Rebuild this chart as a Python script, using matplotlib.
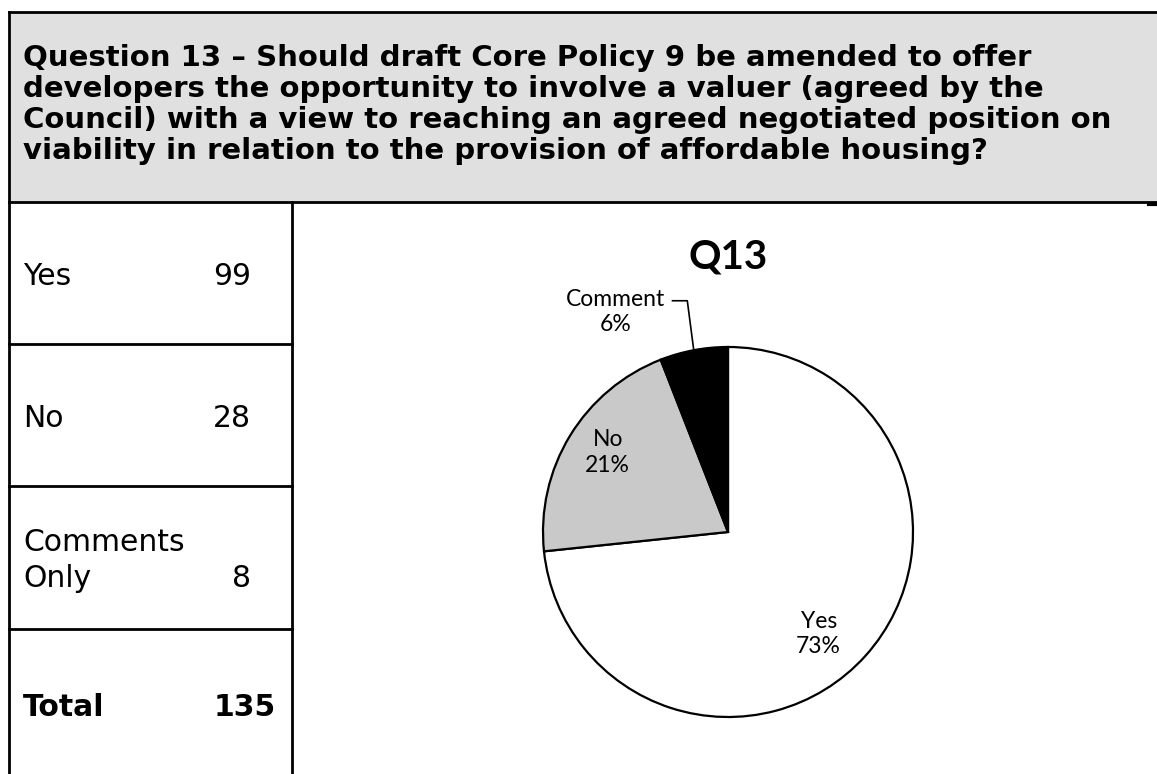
import matplotlib
matplotlib.use("Agg")
import matplotlib.pyplot as plt
import numpy as np

W, H = 1157, 774

question = ("Question 13 \u2013 Should draft Core Policy 9 be amended to offer\n"
            "developers the opportunity to involve a valuer (agreed by the\n"
            "Council) with a view to reaching an agreed negotiated position on\n"
            "viability in relation to the provision of affordable housing?")

row_labels = ["Yes", "No", "Comments\nOnly"]
row_counts = [99, 28, 8]
total_label = "Total"

pie_labels = ["Yes", "No", "Comment"]
pie_colors = ["#ffffff", "#c9c9c9", "#000000"]
chart_title = "Q13"

fig = plt.figure(figsize=(W / 100, H / 100), dpi=100)
fig.set_facecolor("white")

# page axes in pixel coordinates (y down)
page = fig.add_axes([0, 0, 1, 1])
page.set_xlim(0, W)
page.set_ylim(H, 0)
page.axis("off")

# header box
page.add_patch(plt.Rectangle((9, 12), W - 9, 190, facecolor="#e0e0e0",
                             edgecolor="none", zorder=0))
lw = 2.0
page.plot([9, W], [12, 12], color="black", lw=lw)
page.plot([9, W], [202, 202], color="black", lw=lw)
page.plot([9, 9], [12, H], color="black", lw=lw)
page.plot([292, 292], [202, H], color="black", lw=lw)
page.plot([1149, W], [204, 204], color="black", lw=3)

for i, line in enumerate(question.split("\n")):
    page.text(23, 66 + 31 * i, line, fontsize=21, fontweight="bold",
              family="DejaVu Sans", va="baseline", ha="left")

# left table
row_edges = [202, 344, 486, 629]
for y in row_edges[1:]:
    page.plot([9, 292], [y, y], color="black", lw=lw)

tfs = 21.5
baselines = [[285], [427], [551, 587]]
for label, count, ys in zip(row_labels, row_counts, baselines):
    for part, y in zip(label.split("\n"), ys):
        page.text(23, y, part, fontsize=tfs, family="DejaVu Sans",
                  va="baseline", ha="left")
    page.text(251, ys[-1], str(count), fontsize=tfs, family="DejaVu Sans",
              va="baseline", ha="right")
page.text(23, 716, total_label, fontsize=tfs, fontweight="bold",
          family="DejaVu Sans", va="baseline", ha="left")
page.text(276, 716, str(sum(row_counts)), fontsize=tfs, fontweight="bold",
          family="DejaVu Sans", va="baseline", ha="right")

# pie chart
cx, cy, r = 728, 532, 185
ax = fig.add_axes([(cx - r) / W, (H - cy - r) / H, 2 * r / W, 2 * r / H])
wedges, _ = ax.pie(row_counts, colors=pie_colors, startangle=90,
                   counterclock=False,
                   wedgeprops=dict(edgecolor="black", linewidth=1.6))
ax.set_xlim(-1, 1)
ax.set_ylim(-1, 1)
ax.set_aspect("equal")
ax.axis("off")

total = sum(row_counts)
pcts = [round(100 * c / total) for c in row_counts]
label_pos = [(0.49, -0.55), (-0.65, 0.43), (-0.61, 1.19)]
for lab, p, (x, y) in zip(pie_labels, pcts, label_pos):
    ax.text(x, y, f"{lab}\n{p}%", fontsize=16.5, family="Lato",
            ha="center", va="center", linespacing=1.25, clip_on=False)

# leader line for the small slice
w = wedges[2]
mid = np.deg2rad((w.theta1 + w.theta2) / 2)
ex, ey = np.cos(mid), np.sin(mid)
ax.plot([-0.30, -0.22, ex], [1.25, 1.25, ey], color="black", lw=1.2,
        clip_on=False)

fig.text(cx / W, 1 - 257 / H, chart_title, fontsize=29, fontweight="bold",
         family="Lato", ha="center", va="center")

fig.savefig("out.png", dpi=100)
